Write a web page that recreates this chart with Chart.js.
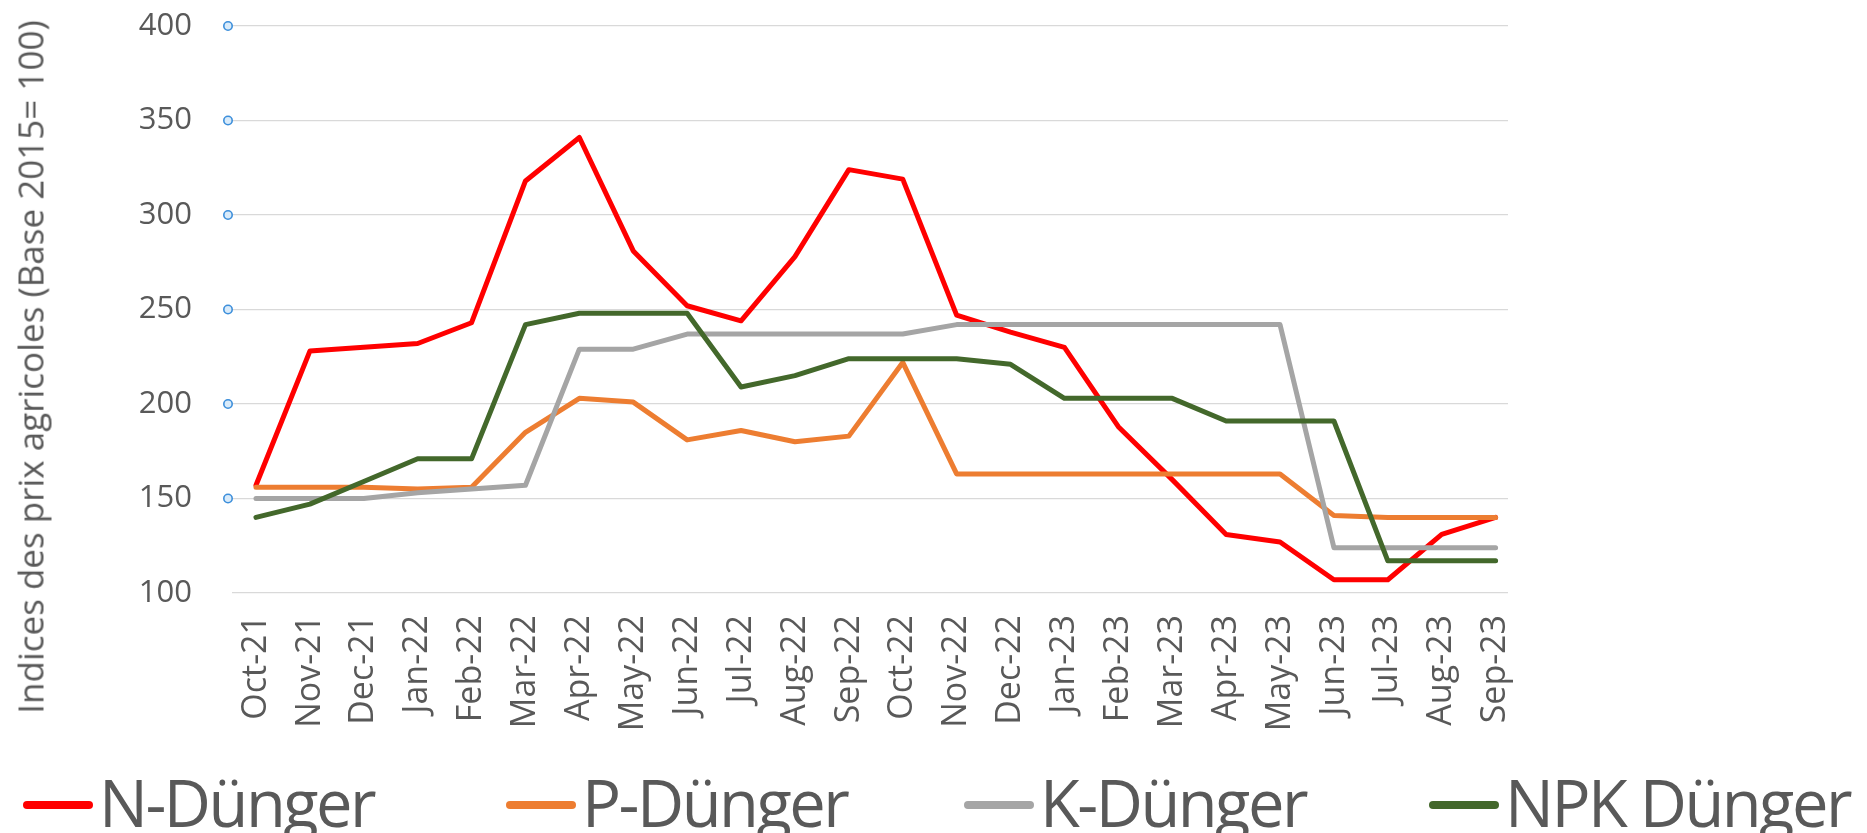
<!DOCTYPE html>
<html>
<head>
<meta charset="utf-8">
<script src="https://cdn.jsdelivr.net/npm/chart.js@4.4.1/dist/chart.umd.min.js"></script>
<style>
  html, body { margin: 0; padding: 0; background: #fff; overflow: hidden; }
  #wrap { position: relative; width: 1867px; height: 833px; overflow: hidden; }
  canvas { position: absolute; left: 0; top: 0; }
  .ytitle { position: absolute; left: 30px; top: 367px; transform: translate(-50%, -50%) rotate(-90deg);
    white-space: nowrap; font-family: "Open Sans", sans-serif; font-size: 35px; color: #595959; line-height: 1; }
  .leg { position: absolute; top: 770px; display: flex; align-items: center; white-space: nowrap;
    font-family: "Open Sans", sans-serif; font-size: 65px; color: #595959; letter-spacing: -2.5px; line-height: 1; }
  .leg .mk { width: 70px; height: 8px; border-radius: 4px; margin-right: 6px; margin-top: 4px; }
</style>
</head>
<body>
<div id="wrap">
  <canvas id="c" width="1867" height="833"></canvas>
  <div class="ytitle">Indices des prix agricoles (Base 2015= 100)</div>
  <div id="legend"></div>
</div>
<script>
const categories = ['Oct-21','Nov-21','Dec-21','Jan-22','Feb-22','Mar-22','Apr-22','May-22','Jun-22','Jul-22','Aug-22','Sep-22','Oct-22','Nov-22','Dec-22','Jan-23','Feb-23','Mar-23','Apr-23','May-23','Jun-23','Jul-23','Aug-23','Sep-23'];
const nDuenger   = [157, 228, 230, 232, 243, 318, 341, 281, 252, 244, 278, 324, 319, 247, 238, 230, 188, 160, 131, 127, 107, 107, 131, 140];
const pDuenger   = [156, 156, 156, 155, 156, 185, 203, 201, 181, 186, 180, 183, 222, 163, 163, 163, 163, 163, 163, 163, 141, 140, 140, 140];
const kDuenger   = [150, 150, 150, 153, 155, 157, 229, 229, 237, 237, 237, 237, 237, 242, 242, 242, 242, 242, 242, 242, 124, 124, 124, 124];
const npkDuenger = [140, 147, 159, 171, 171, 242, 248, 248, 248, 209, 215, 224, 224, 224, 221, 203, 203, 203, 191, 191, 191, 117, 117, 117];
const seriesNames = ['N-Dünger', 'P-Dünger', 'K-Dünger', 'NPK Dünger'];
const yTicks = [100, 150, 200, 250, 300, 350, 400];

const colors = ['#FF0000', '#ED7D31', '#A5A5A5', '#43682B'];
const allSeries = [nDuenger, pDuenger, kDuenger, npkDuenger];
const legendX = [23, 506, 964, 1429];

const toPoints = arr => arr.map((v, i) => ({ x: i, y: v }));

const tickDots = {
  id: 'tickDots',
  afterDraw(chart) {
    const ctx = chart.ctx, ys = chart.scales.y;
    ctx.save();
    yTicks.forEach(v => {
      if (v <= 100) return;
      const y = ys.getPixelForValue(v);
      ctx.beginPath();
      ctx.arc(228, y, 4.2, 0, Math.PI * 2);
      ctx.fillStyle = '#d9ebfa';
      ctx.fill();
      ctx.lineWidth = 1.6;
      ctx.strokeStyle = '#3d8fdb';
      ctx.stroke();
    });
    ctx.restore();
  }
};

new Chart(document.getElementById('c'), {
  type: 'line',
  data: {
    datasets: allSeries.map((s, i) => ({
      label: seriesNames[i],
      data: toPoints(s),
      borderColor: colors[i],
      backgroundColor: colors[i],
      borderWidth: 5,
      pointRadius: 0,
      tension: 0,
      fill: false,
      borderJoinStyle: 'round',
      borderCapStyle: 'round',
      order: 3 - i
    }))
  },
  options: {
    responsive: false,
    animation: false,
    events: [],
    layout: { padding: { top: 26, right: 359, bottom: 0, left: 0 } },
    plugins: { legend: { display: false }, tooltip: { enabled: false }, title: { display: false } },
    scales: {
      x: {
        type: 'linear',
        min: -0.445,
        max: 23.23,
        grid: { display: false, drawTicks: false },
        border: { display: false },
        afterBuildTicks: s => { s.ticks = categories.map((_, i) => ({ value: i })); },
        afterFit: s => { s.height = 240; s.paddingTop = 0; s.paddingBottom = 0; },
        ticks: {
          autoSkip: false,
          maxRotation: 90,
          minRotation: 90,
          padding: 22,
          color: '#595959',
          font: { family: 'Open Sans', size: 34 },
          callback: v => categories[v] ?? ''
        }
      },
      y: {
        min: 100,
        max: 400,
        afterBuildTicks: s => { s.ticks = yTicks.map(v => ({ value: v })); },
        afterFit: s => { s.width = 232; s.paddingTop = 0; s.paddingBottom = 0; },
        grid: { color: '#d9d9d9', lineWidth: 1.3, drawTicks: false },
        border: { display: false },
        ticks: {
          padding: 40,
          color: '#595959',
          font: { family: 'Open Sans', size: 31 }
        }
      }
    }
  },
  plugins: [tickDots]
});

const legend = document.getElementById('legend');
seriesNames.forEach((name, i) => {
  const item = document.createElement('div');
  item.className = 'leg';
  item.style.left = legendX[i] + 'px';
  const mk = document.createElement('span');
  mk.className = 'mk';
  mk.style.background = colors[i];
  const tx = document.createElement('span');
  tx.textContent = name;
  item.appendChild(mk);
  item.appendChild(tx);
  legend.appendChild(item);
});
</script>
</body>
</html>
